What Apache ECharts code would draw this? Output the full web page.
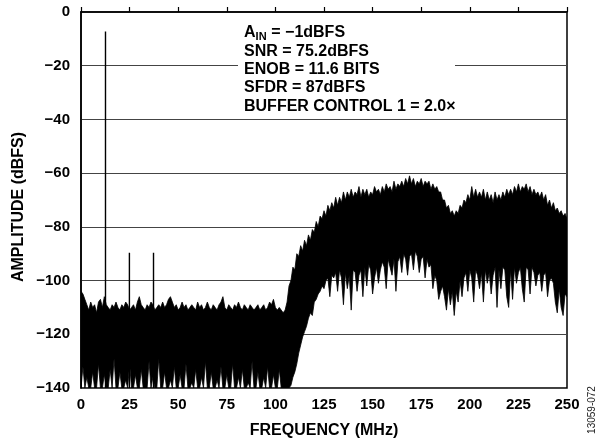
<!DOCTYPE html>
<html>
<head>
<meta charset="utf-8">
<script src="https://cdn.jsdelivr.net/npm/echarts@6/dist/echarts.min.js"></script>
<style>
html,body{margin:0;padding:0;background:#fff;}
#chart{width:598px;height:444px;}
</style>
</head>
<body>
<div id="chart"></div>
<script>
// Frequency grid of the noise envelope (MHz), 1 MHz steps 0..250
var freqStart = 0, freqStep = 1;

// Upper edge of the dense FFT noise band (dBFS)
var noiseTop = [
 -104,-105,-107,-109,-111,-108,-110,-109,-112,-108,
 -107,-110,-106,-109,-110,-111,-109,-110,-108,-110,
 -111,-109,-110,-108,-109,-111,-110,-109,-111,-108,
 -106,-109,-110,-111,-109,-110,-108,-109,-111,-110,
 -109,-110,-108,-110,-109,-107,-106,-108,-110,-109,
 -111,-110,-108,-110,-109,-111,-110,-109,-110,-111,
 -108,-110,-109,-111,-110,-108,-110,-111,-109,-110,
 -111,-109,-108,-106,-110,-111,-109,-110,-111,-109,
 -110,-108,-110,-111,-109,-110,-111,-109,-110,-111,
 -110,-109,-111,-110,-109,-111,-110,-108,-109,-107,
 -110,-111,-110,-111,-112,-111,
 -108,-102,-100,-95,-96,-90,-91,-87,-89,-85,
 -87,-83,-85,-81,-82,-78,-80,-76,-77,-74,
 -76,-72,-74,-71,-73,-69,-72,-69,-71,-67,
 -70,-67,-69,-66,-69,-67,-68,-65,-69,-66,
 -68,-66,-69,-67,-68,-65,-67,-66,-68,-65,
 -67,-64,-66,-65,-67,-63,-66,-64,-65,-63,
 -65,-62,-64,-61,-64,-62,-65,-63,-64,-62,
 -65,-63,-64,-63,-66,-64,-66,-65,-67,-67,
 -70,-70,-73,-72,-75,-74,-76,-74,-75,-72,
 -73,-70,-71,-68,-70,-65,-69,-66,-69,-67,
 -69,-66,-70,-67,-70,-68,-71,-67,-70,-68,
 -70,-67,-69,-66,-68,-66,-68,-65,-67,-64,
 -67,-65,-66,-64,-67,-65,-68,-66,-68,-67,
 -69,-67,-70,-68,-72,-70,-73,-71,-74,-73,
 -75,-74,-76,-75,-77
];

// Lower edge of the dense FFT noise band (dBFS)
var noiseBottom = [
 -140,-132,-140,-136,-140,-140,-134,-140,-140,-131,
 -140,-140,-135,-140,-140,-133,-140,-129,-140,-140,
 -134,-140,-140,-137,-140,-131,-140,-140,-135,-140,
 -140,-133,-140,-140,-140,-130,-140,-136,-140,-140,
 -129,-140,-140,-134,-140,-140,-137,-140,-132,-140,
 -140,-135,-140,-140,-131,-140,-140,-138,-140,-133,
 -140,-140,-136,-140,-130,-140,-140,-134,-140,-140,
 -137,-140,-132,-140,-140,-135,-140,-140,-131,-140,
 -140,-136,-140,-133,-140,-140,-138,-140,-130,-140,
 -140,-134,-140,-140,-136,-140,-132,-140,-140,-135,
 -140,-140,-133,-140,-140,-140,
 -140,-140,-139,-136,-134,-131,-127,-124,-121,-119,
 -117,-114,-112,-113,-108,-107,-105,-104,-102,-103,
 -100,-99,-106,-98,-99,-97,-104,-96,-99,-109,
 -97,-103,-98,-111,-96,-97,-104,-98,-96,-106,
 -95,-102,-94,-96,-105,-99,-95,-101,-96,-93,
 -95,-103,-92,-95,-98,-92,-104,-93,-91,-97,
 -90,-92,-98,-91,-90,-96,-89,-91,-97,-92,
 -91,-99,-92,-95,-94,-103,-98,-100,-107,-104,
 -102,-106,-111,-103,-109,-104,-113,-104,-108,-100,
 -106,-99,-97,-104,-96,-99,-108,-96,-98,-103,
 -97,-108,-96,-101,-97,-105,-98,-95,-110,-96,
 -103,-95,-96,-106,-110,-96,-107,-95,-101,-97,
 -95,-103,-108,-95,-96,-105,-95,-97,-102,-98,
 -97,-104,-98,-97,-106,-100,-99,-101,-108,-112,
 -103,-110,-113,-105,-106
];

// Fundamental and harmonic spurs
var spurFreq = [12.6, 24.9, 37.3];
var spurAmp  = [-7.3, -89.6, -89.6];

// Axis ticks
var xTicks = [0, 25, 50, 75, 100, 125, 150, 175, 200, 225, 250];
var yTicks = [0, -20, -40, -60, -80, -100, -120, -140];

var annotLines = ['SNR = 75.2dBFS', 'ENOB = 11.6 BITS', 'SFDR = 87dBFS', 'BUFFER CONTROL 1 = 2.0\u00d7'];

var FONT = '"Liberation Sans", Arial, Helvetica, sans-serif';

var bandData = [];
for (var i = 0; i < noiseTop.length; i++) {
  bandData.push([freqStart + i * freqStep, noiseTop[i], noiseBottom[i]]);
}

function renderBand(params, api) {
  if (params.dataIndex !== 0) return null;
  var pts = [], n = bandData.length, m;
  for (m = 0; m < n; m++) pts.push(api.coord([bandData[m][0], bandData[m][1]]));
  for (m = n - 1; m >= 0; m--) pts.push(api.coord([bandData[m][0], bandData[m][2]]));
  return {
    type: 'polygon',
    shape: { points: pts },
    style: { fill: '#000', stroke: '#000', lineWidth: 0.8 }
  };
}

var series = [
  {
    type: 'custom', renderItem: renderBand, data: bandData, silent: true, z: 3,
    encode: { x: 0, y: [1, 2] }, clip: true
  }
];
for (var k = 0; k < spurFreq.length; k++) {
  series.push({
    type: 'line', symbol: 'none', silent: true, z: 4,
    data: [[spurFreq[k], yTicks[yTicks.length - 1]], [spurFreq[k], spurAmp[k]]],
    lineStyle: { color: '#000', width: 1.4 }
  });
}

var minus = function (v) { return v < 0 ? '\u2212' + Math.abs(v) : String(v); };

var lineY0 = 33, lineStep = 18.3, textX = 244;
var graphics = [
  { type: 'rect', shape: { x: 238, y: 20, width: 217, height: 96 }, style: { fill: '#fff' }, z: 50 },
  { type: 'text', x: textX, y: lineY0, z: 51, style: { text: 'A', font: 'bold 16px ' + FONT, fill: '#000', textVerticalAlign: 'middle' } },
  { type: 'text', x: textX + 11.6, y: lineY0 + 4, z: 51, style: { text: 'IN', font: 'bold 11px ' + FONT, fill: '#000', textVerticalAlign: 'middle' } },
  { type: 'text', x: textX + 22.8, y: lineY0, z: 51, style: { text: ' = \u22121dBFS', font: 'bold 16px ' + FONT, fill: '#000', textVerticalAlign: 'middle' } },
  { type: 'text', x: 19, y: 207, rotation: Math.PI / 2, z: 51, style: { text: 'AMPLITUDE (dBFS)', font: 'bold 16px ' + FONT, fill: '#000', textAlign: 'center', textVerticalAlign: 'middle' } },
  { type: 'text', x: 592, y: 410, rotation: Math.PI / 2, z: 51, style: { text: '13059-072', font: '10px ' + FONT, fill: '#222', textAlign: 'center', textVerticalAlign: 'middle' } }
];
for (var j = 0; j < annotLines.length; j++) {
  graphics.push({ type: 'text', x: textX, y: lineY0 + (j + 1) * lineStep, z: 51,
    style: { text: annotLines[j], font: 'bold 16px ' + FONT, fill: '#000', textVerticalAlign: 'middle' } });
}

var chart = echarts.init(document.getElementById('chart'), null, { renderer: 'canvas' });
chart.setOption({
  animation: false,
  backgroundColor: '#fff',
  grid: { left: 81, right: 31, top: 12, bottom: 54, show: true, borderColor: '#000', borderWidth: 1.5, backgroundColor: 'transparent' },
  xAxis: {
    type: 'value', min: xTicks[0], max: xTicks[xTicks.length - 1], interval: 25,
    name: 'FREQUENCY (MHz)', nameLocation: 'middle', nameGap: 35,
    nameTextStyle: { fontFamily: FONT, fontWeight: 'bold', fontSize: 16, color: '#000' },
    axisLine: { show: true, lineStyle: { color: '#000', width: 1.5 } },
    axisTick: { show: true, inside: true, length: 5, lineStyle: { color: '#000', width: 1.2 } },
    axisLabel: { margin: 9, fontFamily: FONT, fontWeight: 'bold', fontSize: 15, color: '#000' },
    splitLine: { show: false }
  },
  yAxis: {
    type: 'value', min: yTicks[yTicks.length - 1], max: yTicks[0], interval: 20,
    axisLine: { show: true, lineStyle: { color: '#000', width: 1.5 } },
    axisTick: { show: false },
    axisLabel: { margin: 11, fontFamily: FONT, fontWeight: 'bold', fontSize: 15, color: '#000', formatter: minus },
    splitLine: { show: true, lineStyle: { color: '#444', width: 1 } }
  },
  graphic: graphics,
  series: series
});
</script>
</body>
</html>
